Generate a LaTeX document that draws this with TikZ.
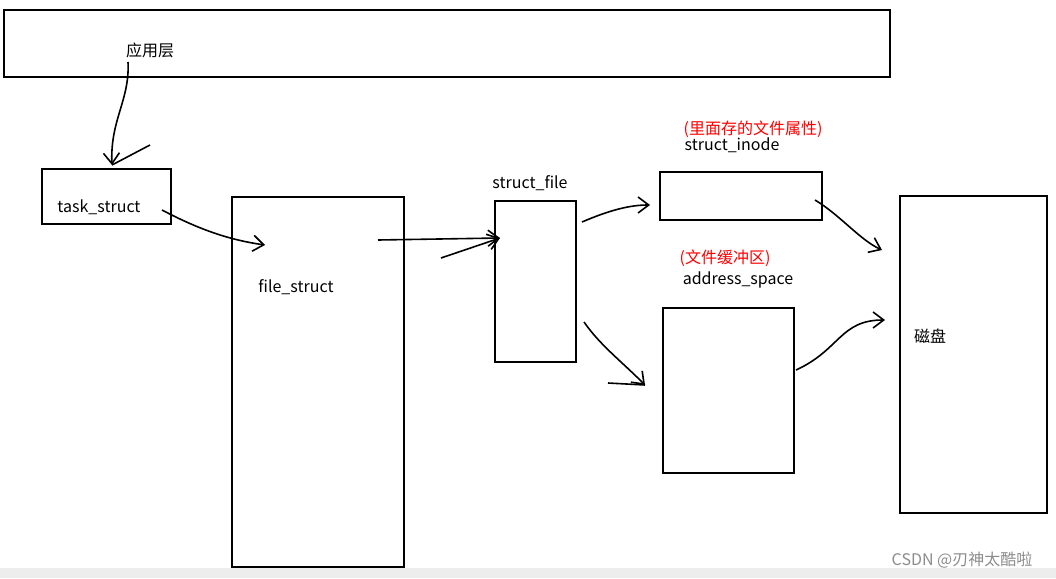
\documentclass[tikz,border=0pt]{standalone}
\usepackage{fontspec}
\setmainfont{Noto Sans CJK SC}
\usetikzlibrary{arrows.meta,calc}
\tikzset{box/.style={draw,line width=2.2pt}}
\tikzset{l/.style={font=\fontsize{12}{12}\selectfont}}
\tikzset{r/.style={font=\fontsize{12}{12}\selectfont,text=red}}
\tikzset{hand/.style={line width=1.2pt,-{Straight Barb[length=8pt,width=12pt]}}}
\begin{document}
\begin{tikzpicture}[x=0.75pt,y=-0.75pt]
  \useasboundingbox (0,0) rectangle (1056,578);
  \fill [black!7] (0,568) rectangle (1056,578);
  % boxes
  \draw [box] (4,10) rectangle (890,77);
  \draw [box] (42,169) rectangle (171,224);
  \draw [box] (232,197) rectangle (404,567);
  \draw [box] (495,201) rectangle (576,362);
  \draw [box] (660,172) rectangle (822,220);
  \draw [box] (663,308) rectangle (794,473);
  \draw [box] (900,196) rectangle (1047,513);
  % labels
  \node [l] (app) at (150,50) {应用层};
  \node [l] (task) at (99,207) {task\_struct};
  \node [l] (fs) at (296,287) {file\_struct};
  \node [l] (sf) at (530,183) {struct\_file};
  \node [r] (inoder) at (753,129) {(里面存的文件属性)};
  \node [l] (inode) at (732,145) {struct\_inode};
  \node [r] (asr) at (725,258) {(文件缓冲区)};
  \node [l] (as) at (738,280) {address\_space};
  \node [l] (disk) at (930,336) {磁盘};
  \node [font=\fontsize{12}{12}\selectfont,text=black!45] (mark) at (962,560) {CSDN @刃神太酷啦};
  % arrows
  \coordinate (a1) at (128,62);  \coordinate (a2) at (112,165);
  \coordinate (b1) at (162,210); \coordinate (b2) at (265,245);
  \coordinate (c1) at (378,240); \coordinate (c2) at (500,238);
  \coordinate (c3) at (441,258);
  \coordinate (d1) at (582,222); \coordinate (d2) at (650,205);
  \coordinate (e1) at (584,322); \coordinate (e2) at (645,385);
  \coordinate (e3) at (608,383);
  \coordinate (f1) at (815,200); \coordinate (f2) at (882,250);
  \coordinate (g1) at (796,370); \coordinate (g2) at (885,320);
  \draw [hand] (a1) .. controls (130,100) and (110,120) .. (a2);
  \draw [line width=1.2pt] (a2) -- (150,145);
  \draw [hand] (b1) .. controls (200,230) and (230,240) .. (b2);
  \draw [hand] (c1) -- (c2);
  \draw [hand] (c3) -- (c2);
  \draw [hand] (d1) .. controls (610,210) and (630,205) .. (d2);
  \draw [hand] (e1) .. controls (600,345) and (620,360) .. (e2);
  \draw [line width=1.2pt] (e3) -- (e2);
  \draw [hand] (f1) .. controls (840,215) and (860,240) .. (f2);
  \draw [hand] (g1) .. controls (840,350) and (840,320) .. (g2);
\end{tikzpicture}
\end{document}
